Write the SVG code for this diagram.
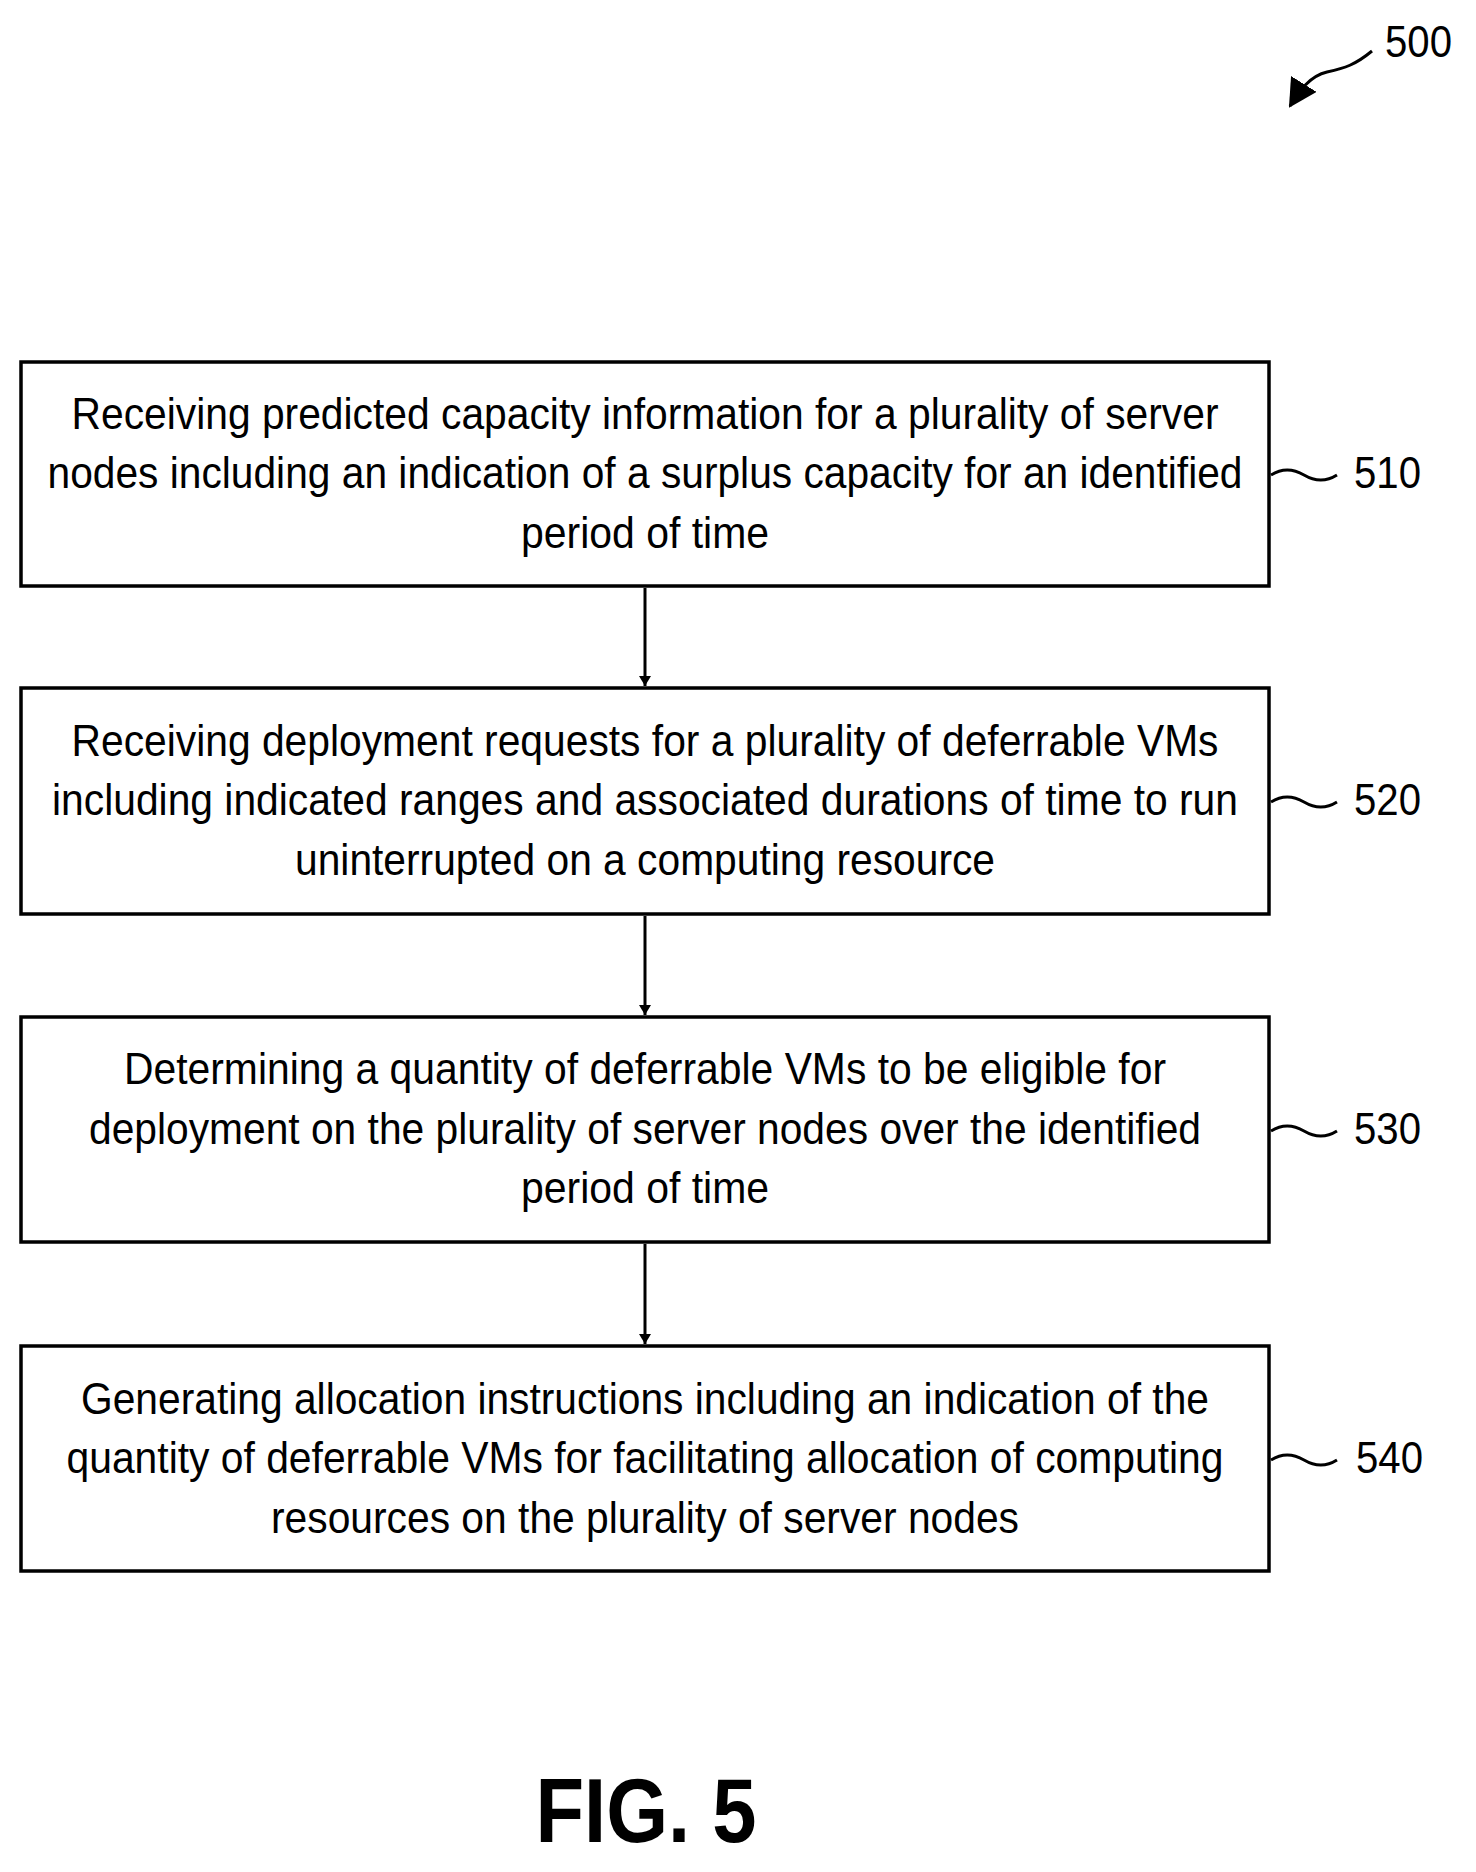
<svg xmlns="http://www.w3.org/2000/svg" width="1476" height="1872" viewBox="0 0 1476 1872">
<style>
.box{fill:#fff;stroke:#000;stroke-width:3.5}
.t{font-family:"Liberation Sans",Arial,sans-serif;font-size:44px;text-anchor:middle;fill:#000}
.lbl{font-family:"Liberation Sans",Arial,sans-serif;font-size:44px;fill:#000}
.ln{fill:none;stroke:#000;stroke-width:3}
</style>
<defs>
<marker id="ah" markerWidth="10" markerHeight="12" refX="10" refY="6" orient="auto" markerUnits="userSpaceOnUse" viewBox="0 0 10 12"><path d="M0,0 L10,6 L0,12 z" fill="#000"/></marker>
<marker id="ah2" markerWidth="28" markerHeight="30" refX="26" refY="15" orient="auto" markerUnits="userSpaceOnUse"><path d="M0,0 L28,15 L0,30 z" fill="#000"/></marker>
</defs>
<g id="ref500">
<text class="lbl" x="1385" y="57" textLength="67" lengthAdjust="spacingAndGlyphs">500</text>
<path class="ln" d="M1372,51 C1355,65 1345,68 1327,72 C1310,76 1300,90 1290,106" marker-end="url(#ah2)"/>
</g>
<g id="n510">
<rect class="box" x="21" y="362" width="1248" height="224"/>
<text class="t" x="645" y="429" textLength="1147" lengthAdjust="spacingAndGlyphs">Receiving predicted capacity information for a plurality of server</text>
<text class="t" x="645" y="488" textLength="1195" lengthAdjust="spacingAndGlyphs">nodes including an indication of a surplus capacity for an identified</text>
<text class="t" x="645" y="548" textLength="248" lengthAdjust="spacingAndGlyphs">period of time</text>
<path class="ln" d="M1271,475 q16,-10 33,0 t33,0"/>
<text class="lbl" x="1354" y="488" textLength="67" lengthAdjust="spacingAndGlyphs">510</text>
</g>
<g id="n520">
<rect class="box" x="21" y="688" width="1248" height="226"/>
<text class="t" x="645" y="756" textLength="1147" lengthAdjust="spacingAndGlyphs">Receiving deployment requests for a plurality of deferrable VMs</text>
<text class="t" x="645" y="815" textLength="1186" lengthAdjust="spacingAndGlyphs">including indicated ranges and associated durations of time to run</text>
<text class="t" x="645" y="875" textLength="700" lengthAdjust="spacingAndGlyphs">uninterrupted on a computing resource</text>
<path class="ln" d="M1271,802 q16,-10 33,0 t33,0"/>
<text class="lbl" x="1354" y="815" textLength="67" lengthAdjust="spacingAndGlyphs">520</text>
</g>
<g id="n530">
<rect class="box" x="21" y="1017" width="1248" height="225"/>
<text class="t" x="645" y="1084" textLength="1042" lengthAdjust="spacingAndGlyphs">Determining a quantity of deferrable VMs to be eligible for</text>
<text class="t" x="645" y="1144" textLength="1112" lengthAdjust="spacingAndGlyphs">deployment on the plurality of server nodes over the identified</text>
<text class="t" x="645" y="1203" textLength="248" lengthAdjust="spacingAndGlyphs">period of time</text>
<path class="ln" d="M1271,1131 q16,-10 33,0 t33,0"/>
<text class="lbl" x="1354" y="1144" textLength="67" lengthAdjust="spacingAndGlyphs">530</text>
</g>
<g id="n540">
<rect class="box" x="21" y="1346" width="1248" height="225"/>
<text class="t" x="645" y="1414" textLength="1128" lengthAdjust="spacingAndGlyphs">Generating allocation instructions including an indication of the</text>
<text class="t" x="645" y="1473" textLength="1157" lengthAdjust="spacingAndGlyphs">quantity of deferrable VMs for facilitating allocation of computing</text>
<text class="t" x="645" y="1533" textLength="748" lengthAdjust="spacingAndGlyphs">resources on the plurality of server nodes</text>
<path class="ln" d="M1271,1460 q16,-10 33,0 t33,0"/>
<text class="lbl" x="1356" y="1473" textLength="67" lengthAdjust="spacingAndGlyphs">540</text>
</g>
<g id="connectors">
<line class="ln" x1="645" y1="588" x2="645" y2="686" marker-end="url(#ah)"/>
<line class="ln" x1="645" y1="916" x2="645" y2="1015" marker-end="url(#ah)"/>
<line class="ln" x1="645" y1="1244" x2="645" y2="1344" marker-end="url(#ah)"/>
</g>
<text x="646" y="1842" font-family="Liberation Sans,Arial,sans-serif" font-weight="bold" font-size="90" text-anchor="middle" textLength="221" lengthAdjust="spacingAndGlyphs">FIG. 5</text>
</svg>
